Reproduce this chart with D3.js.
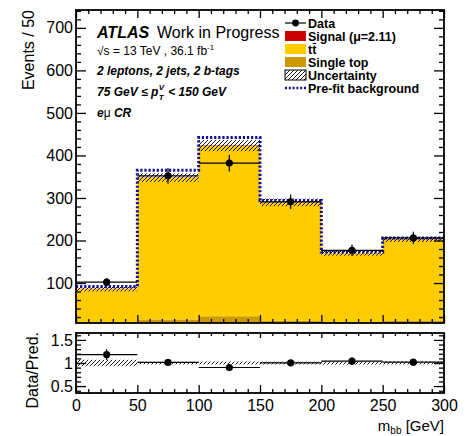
<!DOCTYPE html>
<html><head><meta charset="utf-8">
<script src="https://cdn.jsdelivr.net/npm/d3@7"></script>
<style>
body{margin:0;background:#fff}
svg{display:block}
text{font-family:"Liberation Sans",Arial,Helvetica,sans-serif;fill:#000}
</style>
</head><body>
<svg id="chart" width="467" height="436"></svg>
<script>
// m_bb distribution, e-mu control region
const binEdges   = [0, 50, 100, 150, 200, 250, 300];
const dataCounts = [102, 352, 382, 291, 177, 206];
const ttbar      = [79, 333, 400, 278, 162, 190];
const singleTop  = [7, 14, 22, 11, 8, 12];
const signal     = [0.3, 0.8, 1.2, 0.6, 0.3, 0.4];
const bkgUnc     = [6, 10, 13, 9, 6, 6];
const prefitBkg  = [92, 365, 442, 294, 173, 206];

const xTicks     = [0, 50, 100, 150, 200, 250, 300];
const yTicks     = [100, 200, 300, 400, 500, 600, 700];
const ratioTicks = [0.5, 1, 1.5];

const colSignal = "#cc0000", colTtbar = "#ffcc00", colSingleTop = "#cc9900", colPrefit = "#10109a";

const svg = d3.select("#chart");
const L = 76, R = 444, T = 10, B = 323, RT = 333, RB = 393;

const x  = d3.scaleLinear().domain([0, 300]).range([L, R]);
const y  = d3.scaleLinear().domain([6, 742]).range([B, T]);
const yr = d3.scaleLinear().domain([0.35, 1.65]).range([RB, RT]);

const bins = dataCounts.map((d, i) => {
  const lo = binEdges[i], hi = binEdges[i + 1];
  const st = singleTop[i], tt = ttbar[i], sg = signal[i];
  const tot = st + tt + sg;
  return { lo, hi, c: (lo + hi) / 2, data: d, st, tt, sg, tot, unc: bkgUnc[i], pre: prefitBkg[i] };
});

// hatch pattern for uncertainty bands
const defs = svg.append("defs");
const pat = defs.append("pattern").attr("id", "hatch").attr("patternUnits", "userSpaceOnUse")
  .attr("width", 4).attr("height", 4);
pat.append("path").attr("d", "M-1,1 l2,-2 M0,4 l4,-4 M3,5 l2,-2")
  .attr("stroke", "#000").attr("stroke-width", 0.9);
defs.append("clipPath").attr("id", "clipMain").append("rect")
  .attr("x", L).attr("y", T).attr("width", R - L).attr("height", B - T);
defs.append("clipPath").attr("id", "clipRatio").append("rect")
  .attr("x", L).attr("y", RT).attr("width", R - L).attr("height", RB - RT);

// ---------- main panel ----------
const gm = svg.append("g").attr("clip-path", "url(#clipMain)");

// stacked histogram drawn as one step area per component: single top, ttbar, signal
const ymin = y.domain()[0];
const layerDefs = [
  [b => 0, b => b.st, colSingleTop],
  [b => b.st, b => b.st + b.tt, colTtbar],
  [b => b.st + b.tt, b => b.tot, colSignal]
];
const stepArea = d3.area().x(p => x(p.x)).y0(p => y(Math.max(p.y0, ymin))).y1(p => y(Math.max(p.y1, ymin)));
layerDefs.forEach(([f0, f1, col]) => {
  const pts = [];
  bins.forEach(b => {
    pts.push({ x: b.lo, y0: f0(b), y1: f1(b) });
    pts.push({ x: b.hi, y0: f0(b), y1: f1(b) });
  });
  gm.append("path").attr("d", stepArea(pts)).attr("fill", col);
});

// uncertainty band
gm.selectAll("rect.unc").data(bins).join("rect").attr("class", "unc")
  .attr("x", b => x(b.lo)).attr("width", b => x(b.hi) - x(b.lo))
  .attr("y", b => y(b.tot + b.unc)).attr("height", b => y(b.tot - b.unc) - y(b.tot + b.unc))
  .attr("fill", "url(#hatch)");

// pre-fit background outline
const stepPts = [];
bins.forEach(b => { stepPts.push([b.lo, b.pre]); stepPts.push([b.hi, b.pre]); });
gm.append("path")
  .attr("d", d3.line().x(d => x(d[0])).y(d => y(d[1]))(stepPts))
  .attr("fill", "none").attr("stroke", colPrefit).attr("stroke-width", 3)
  .attr("stroke-dasharray", "2.2,1.9");

// data points with errors
const dg = gm.append("g");
bins.forEach(b => {
  const e = Math.sqrt(b.data);
  dg.append("line").attr("x1", x(b.lo)).attr("x2", x(b.hi)).attr("y1", y(b.data)).attr("y2", y(b.data))
    .attr("stroke", "#000").attr("stroke-width", 1.2);
  dg.append("line").attr("x1", x(b.c)).attr("x2", x(b.c)).attr("y1", y(b.data - e)).attr("y2", y(b.data + e))
    .attr("stroke", "#000").attr("stroke-width", 1.2);
  dg.append("circle").attr("cx", x(b.c)).attr("cy", y(b.data)).attr("r", 3.6).attr("fill", "#000");
});

// ---------- ratio panel ----------
const gr = svg.append("g").attr("clip-path", "url(#clipRatio)");
gr.selectAll("rect.runc").data(bins).join("rect").attr("class", "runc")
  .attr("x", b => x(b.lo)).attr("width", b => x(b.hi) - x(b.lo))
  .attr("y", b => yr(1 + b.unc / b.tot)).attr("height", b => yr(1 - b.unc / b.tot) - yr(1 + b.unc / b.tot))
  .attr("fill", "url(#hatch)");
bins.forEach(b => {
  const r = b.data / b.tot, e = Math.sqrt(b.data) / b.tot;
  gr.append("line").attr("x1", x(b.lo)).attr("x2", x(b.hi)).attr("y1", yr(r)).attr("y2", yr(r))
    .attr("stroke", "#000").attr("stroke-width", 1.2);
  gr.append("line").attr("x1", x(b.c)).attr("x2", x(b.c)).attr("y1", yr(r - e)).attr("y2", yr(r + e))
    .attr("stroke", "#000").attr("stroke-width", 1.2);
  gr.append("circle").attr("cx", x(b.c)).attr("cy", yr(r)).attr("r", 3.6).attr("fill", "#000");
});

// ---------- axes (inward ticks on all four sides) ----------
function drawAxis(gen, tx, ty, labels) {
  const g = svg.append("g").attr("transform", `translate(${tx},${ty})`).call(gen);
  g.select(".domain").remove();
  g.selectAll(".tick line").attr("stroke", "#000").attr("stroke-width", 1.3);
  g.selectAll(".tick text").attr("font-size", 16).attr("font-family", null).attr("fill", "#000");
  if (!labels) g.selectAll(".tick text").remove();
  return g;
}
const xMinor = d3.range(0, 301, 10).filter(v => v % 50);
const yMinor = d3.range(20, 741, 20).filter(v => v % 100);
const rMinor = d3.range(0.4, 1.61, 0.1).map(v => +v.toFixed(1)).filter(v => Math.abs(v * 2 - Math.round(v * 2)) > 1e-6);

// main panel
drawAxis(d3.axisLeft(y).tickValues(yTicks).tickSize(-10).tickPadding(3), L, 0, true);
drawAxis(d3.axisLeft(y).tickValues(yMinor).tickSize(-5), L, 0, false);
drawAxis(d3.axisRight(y).tickValues(yTicks).tickSize(-10), R, 0, false);
drawAxis(d3.axisRight(y).tickValues(yMinor).tickSize(-5), R, 0, false);
drawAxis(d3.axisBottom(x).tickValues(xTicks).tickSize(-8), 0, B, false);
drawAxis(d3.axisBottom(x).tickValues(xMinor).tickSize(-4), 0, B, false);
drawAxis(d3.axisTop(x).tickValues(xTicks).tickSize(-8), 0, T, false);
drawAxis(d3.axisTop(x).tickValues(xMinor).tickSize(-4), 0, T, false);

// ratio panel
drawAxis(d3.axisLeft(yr).tickValues(ratioTicks).tickSize(-10).tickPadding(3).tickFormat(d3.format("")), L, 0, true);
drawAxis(d3.axisLeft(yr).tickValues(rMinor).tickSize(-5), L, 0, false);
drawAxis(d3.axisRight(yr).tickValues(ratioTicks).tickSize(-10), R, 0, false);
drawAxis(d3.axisRight(yr).tickValues(rMinor).tickSize(-5), R, 0, false);
drawAxis(d3.axisBottom(x).tickValues(xTicks).tickSize(-8).tickPadding(7), 0, RB, true);
drawAxis(d3.axisBottom(x).tickValues(xMinor).tickSize(-4), 0, RB, false);
drawAxis(d3.axisTop(x).tickValues(xTicks).tickSize(-5), 0, RT, false);
drawAxis(d3.axisTop(x).tickValues(xMinor).tickSize(-3), 0, RT, false);

// frames
[[T, B], [RT, RB]].forEach(([t, b]) => {
  svg.append("rect").attr("x", L).attr("y", t).attr("width", R - L).attr("height", b - t)
    .attr("fill", "none").attr("stroke", "#000").attr("stroke-width", 1.8);
});

// ---------- axis titles ----------
svg.append("text").attr("transform", `translate(34,${T}) rotate(-90)`)
  .attr("text-anchor", "end").attr("font-size", 16).text("Events / 50");
svg.append("text").attr("transform", `translate(38,${RT - 1}) rotate(-90)`)
  .attr("text-anchor", "end").attr("font-size", 16).text("Data/Pred.");
const xt = svg.append("text").attr("x", R).attr("y", 431).attr("text-anchor", "end").attr("font-size", 15);
xt.append("tspan").text("m");
xt.append("tspan").attr("font-size", 10).attr("dy", 2.5).text("bb");
xt.append("tspan").attr("dy", -2.5).text(" [GeV]");

// ---------- labels ----------
const lx = 97;
svg.append("text").attr("x", lx).attr("y", 38).attr("font-size", 16)
  .attr("font-weight", "bold").attr("font-style", "italic").text("ATLAS");
svg.append("text").attr("x", 157).attr("y", 38).attr("font-size", 16).text("Work in Progress");

const s1 = svg.append("text").attr("x", lx).attr("y", 55).attr("font-size", 12);
s1.append("tspan").text("\u221As = 13 TeV , 36.1 fb");
s1.append("tspan").attr("font-size", 8).attr("dy", -5).text("-1");

svg.append("text").attr("x", lx).attr("y", 75).attr("font-size", 12)
  .attr("font-weight", "bold").attr("font-style", "italic").text("2 leptons, 2 jets, 2 b-tags");

const s3 = svg.append("text").attr("x", lx).attr("y", 96).attr("font-size", 12)
  .attr("font-weight", "bold").attr("font-style", "italic");
s3.append("tspan").text("75 GeV  \u2264 p");
const sup = svg.append("text").attr("y", 90).attr("font-size", 8)
  .attr("font-weight", "bold").attr("font-style", "italic").text("V");
const sub = svg.append("text").attr("y", 100).attr("font-size", 8)
  .attr("font-weight", "bold").attr("font-style", "italic").text("T");
const s3b = svg.append("text").attr("y", 96).attr("font-size", 12)
  .attr("font-weight", "bold").attr("font-style", "italic").text("< 150 GeV");
// place p_T indices right after the rendered leading text
const w3 = s3.node().getComputedTextLength();
sup.attr("x", lx + w3 + 0.5); sub.attr("x", lx + w3 + 0.5);
s3b.attr("x", lx + w3 + 10);

const s4 = svg.append("text").attr("x", lx).attr("y", 117).attr("font-size", 12)
  .attr("font-weight", "bold").attr("font-style", "italic");
s4.append("tspan").text("e");
s4.append("tspan").attr("font-weight", "normal").attr("font-style", "normal").text("\u03bc");
s4.append("tspan").text(" CR");

// ---------- legend ----------
const legendLabels = ["Data", "Signal (\u03bc=2.11)", "tt", "Single top", "Uncertainty", "Pre-fit background"];
const legendKinds  = ["data", "signal", "ttbar", "single", "unc", "prefit"];
const legY = [23, 36, 49, 62, 75, 88];
const sx0 = 285, sx1 = 306, tx0 = 308;
legendKinds.forEach((k, i) => {
  const cy = legY[i];
  if (k === "data") {
    svg.append("line").attr("x1", sx0).attr("x2", sx1).attr("y1", cy).attr("y2", cy)
      .attr("stroke", "#000").attr("stroke-width", 1.2);
    svg.append("circle").attr("cx", (sx0 + sx1) / 2).attr("cy", cy).attr("r", 3.4).attr("fill", "#000");
  } else if (k === "prefit") {
    svg.append("line").attr("x1", sx0).attr("x2", sx1).attr("y1", cy).attr("y2", cy)
      .attr("stroke", colPrefit).attr("stroke-width", 2.5).attr("stroke-dasharray", "2,1.8");
  } else {
    const fill = k === "signal" ? colSignal : k === "ttbar" ? colTtbar : k === "single" ? colSingleTop : "url(#hatch)";
    svg.append("rect").attr("x", sx0).attr("y", cy - 5).attr("width", sx1 - sx0).attr("height", 10)
      .attr("fill", fill).attr("stroke", k === "unc" ? "#000" : "none").attr("stroke-width", 1);
  }
  const t = svg.append("text").attr("x", tx0).attr("y", cy + 4.5).attr("font-size", 12.5)
    .attr("font-weight", "bold").text(legendLabels[i]);
  if (k === "ttbar") {
    // bar over the second t (anti-top)
    const w = t.node().getComputedTextLength() / 2;
    svg.append("line").attr("x1", tx0 + w + 0.5).attr("x2", tx0 + 2 * w - 0.3)
      .attr("y1", cy - 5.5).attr("y2", cy - 5.5).attr("stroke", "#000").attr("stroke-width", 1);
  }
});
</script>
</body></html>
